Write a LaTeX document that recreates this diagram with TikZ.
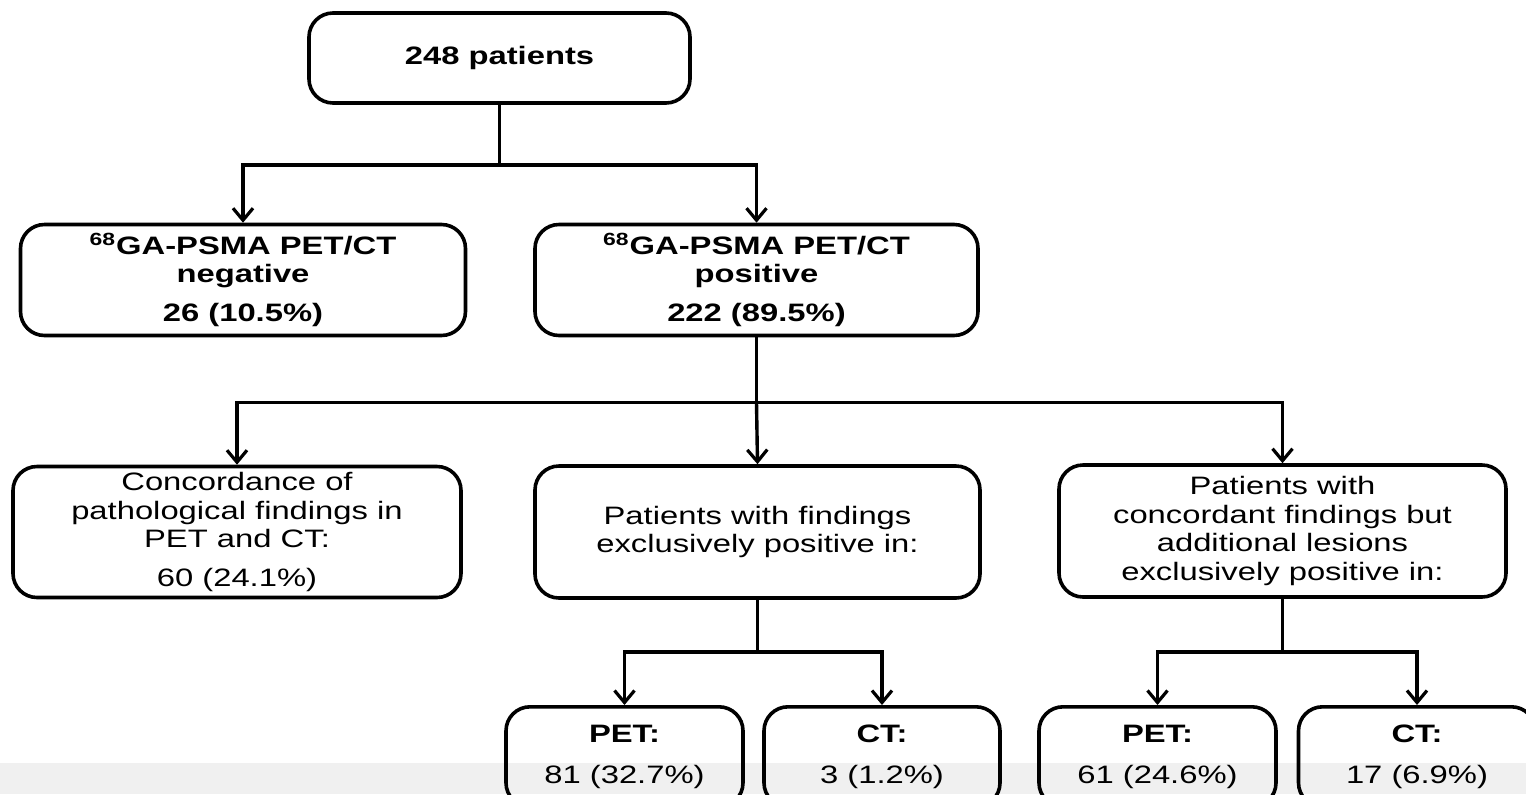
\documentclass[tikz,border=0pt]{standalone}
\usepackage{fontspec}
\setmainfont[FakeStretch=1.3]{Liberation Sans}
\usetikzlibrary{arrows.meta,calc}
\tikzset{
  box/.style={draw, line width=1.8pt, rounded corners=12pt, align=center, inner sep=0pt,
    font=\fontsize{12.6}{14.4}\selectfont},
  conn/.style={line width=1.7pt},
  arr/.style={conn, -{Straight Barb[length=6pt,width=10pt,line width=1.6pt]}},
}
\begin{document}
\begin{tikzpicture}[x=0.5pt,y=-0.5pt]
\clip (0,0) rectangle (1526,794);
\useasboundingbox (0,0) rectangle (1526,794);
\fill[white] (0,0) rectangle (1526,794);
\fill[black!6] (0,763) rectangle (1526,794);

\node[box, minimum width=190.5pt, minimum height=45pt] (top) at (499.5,58) {\textbf{248 patients}};
\node[box, minimum width=222.5pt, minimum height=55.5pt] (neg) at (243,280)
  {\textbf{\textsuperscript{68}GA-PSMA PET/CT}\\\textbf{negative}\\[5pt]\textbf{26 (10.5\%)}};
\node[box, minimum width=221.5pt, minimum height=55.5pt] (pos) at (756.5,280)
  {\textbf{\textsuperscript{68}GA-PSMA PET/CT}\\\textbf{positive}\\[5pt]\textbf{222 (89.5\%)}};

\node[box, minimum width=224pt, minimum height=65.5pt] (conc) at (237,532)
  {Concordance of\\pathological findings in\\PET and CT:\\[5pt]60 (24.1\%)};
\node[box, minimum width=222.5pt, minimum height=66pt] (find) at (757.5,532)
  {Patients with findings\\exclusively positive in:};
\node[box, minimum width=223.5pt, minimum height=66pt] (add) at (1282.5,531)
  {Patients with\\concordant findings but\\additional lesions\\exclusively positive in:};

\node[box, minimum width=118.5pt, minimum height=50pt, anchor=north] (pet1) at (624.5,705)
  {\textbf{PET:}\\[6pt]81 (32.7\%)};
\node[box, minimum width=118pt, minimum height=50pt, anchor=north] (ct1) at (882,705)
  {\textbf{CT:}\\[6pt]3 (1.2\%)};
\node[box, minimum width=118.5pt, minimum height=50pt, anchor=north] (pet2) at (1157.5,705)
  {\textbf{PET:}\\[6pt]61 (24.6\%)};
\node[box, minimum width=118.5pt, minimum height=50pt, anchor=north] (ct2) at (1417,705)
  {\textbf{CT:}\\[6pt]17 (6.9\%)};

\coordinate (j1) at ($(top.south)+(0,60)$);
\coordinate (j2) at ($(pos.south)+(0,65)$);
\coordinate (j3) at ($(find.south)+(0,52)$);
\coordinate (j4) at ($(add.south)+(0,53)$);

\draw[conn] (top.south) -- (j1);
\draw[arr] (j1) -| (neg.north);
\draw[arr] (j1) -| (pos.north);

\draw[conn] (pos.south) -- (j2);
\draw[arr] (j2) -| (conc.north);
\draw[arr] (j2) -- (find.north);
\draw[arr] (j2) -| (add.north);

\draw[conn] (find.south) -- (j3);
\draw[arr] (j3) -| (pet1.north);
\draw[arr] (j3) -| (ct1.north);

\draw[conn] (add.south) -- (j4);
\draw[arr] (j4) -| (pet2.north);
\draw[arr] (j4) -| (ct2.north);
\end{tikzpicture}
\end{document}
